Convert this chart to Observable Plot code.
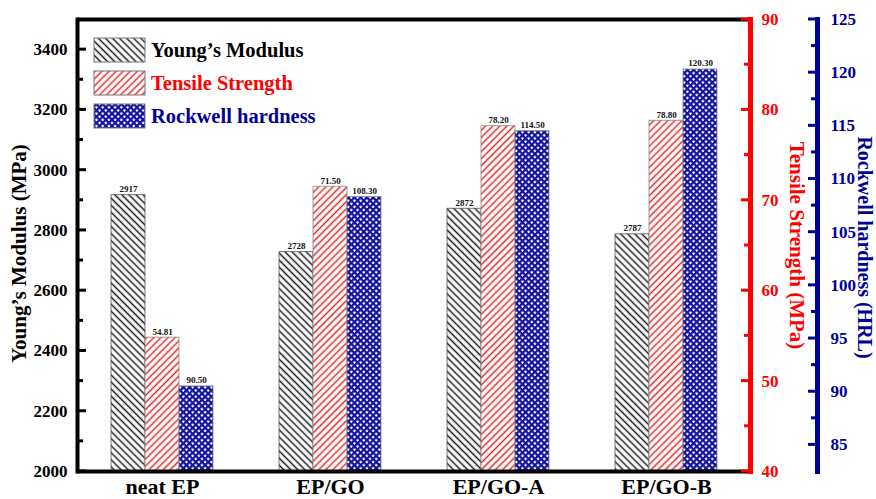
<!DOCTYPE html>
<html><head><meta charset="utf-8">
<script src="https://cdn.jsdelivr.net/npm/d3@7"></script>
<script src="https://cdn.jsdelivr.net/npm/@observablehq/plot@0.6"></script>
<style>body{margin:0;background:#fff}</style>
</head><body><div id="chart"></div>
<script>
const categories = ["neat EP", "EP/GO", "EP/GO-A", "EP/GO-B"];
const youngs = [2917, 2728, 2872, 2787];
const tensile = [54.81, 71.50, 78.20, 78.80];
const rockwell = [90.50, 108.30, 114.50, 120.30];
const seriesNames = ["Young\u2019s Modulus", "Tensile Strength", "Rockwell hardness"];
const youngTicks = [2000, 2200, 2400, 2600, 2800, 3000, 3200, 3400];
const youngMinor = [2100, 2300, 2500, 2700, 2900, 3100, 3300];
const tensileTicks = [40, 50, 60, 70, 80, 90];
const tensileMinor = [45, 55, 65, 75, 85];
const rockwellTicks = [85, 90, 95, 100, 105, 110, 115, 120, 125];
const rockwellMinor = [87.5, 92.5, 97.5, 102.5, 107.5, 112.5, 117.5, 122.5];

const Y0 = 2000, Y1 = 3500, T0 = 40, T1 = 90, R0 = 82.5, R1 = 125;
const fromT = v => Y0 + (v - T0) * (Y1 - Y0) / (T1 - T0);
const toT = y => T0 + (y - Y0) * (T1 - T0) / (Y1 - Y0);
const fromR = v => Y0 + (v - R0) * (Y1 - Y0) / (R1 - R0);
const toR = y => R0 + (y - Y0) * (R1 - R0) / (Y1 - Y0);

const rows = categories.map((c, i) => ({cat: c, young: youngs[i], tens: tensile[i], rock: rockwell[i]}));

const RED = "#ff0000", BLUE = "#000099";
const serif = "'Liberation Serif', 'Times New Roman', serif";
const W = 34;
const BX = 67; // offset of the blue axis from the red one
const ML = 77, MR = 126, WIDTH = 876;

const plot = Plot.plot({
  width: WIDTH, height: 499,
  marginTop: 19, marginBottom: 28, marginLeft: ML, marginRight: MR,
  style: {fontFamily: serif, background: "#fff"},
  x: {domain: categories, paddingInner: 0.8, paddingOuter: 0.4, label: null},
  y: {domain: [Y0, Y1], label: null},
  marks: [
    Plot.barY(rows, {x: "cat", y1: Y0, y2: "young", fill: "url(#hatchBlack)", stroke: "#555", strokeWidth: 0.8, dx: -W}),
    Plot.barY(rows, {x: "cat", y1: Y0, y2: d => fromT(d.tens), fill: "url(#hatchRed)", stroke: "#888", strokeWidth: 0.8}),
    Plot.barY(rows, {x: "cat", y1: Y0, y2: d => fromR(d.rock), fill: "url(#hatchBlue)", stroke: "#888", strokeWidth: 0.8, dx: W}),
    Plot.text(rows, {x: "cat", y: "young", text: d => String(d.young), dx: -W, dy: -6, fontSize: 9, fontWeight: "bold", fill: "#111"}),
    Plot.text(rows, {x: "cat", y: d => fromT(d.tens), text: d => d.tens.toFixed(2), dy: -6, fontSize: 9, fontWeight: "bold", fill: "#111"}),
    Plot.text(rows, {x: "cat", y: d => fromR(d.rock), text: d => d.rock.toFixed(2), dx: W, dy: -6, fontSize: 9, fontWeight: "bold", fill: "#111"}),
    // tick labels
    Plot.axisY({anchor: "left", ticks: youngTicks, tickSize: 0, tickPadding: 10, fontSize: 17, fontWeight: "bold", fill: "black", tickFormat: d => String(d), label: null}),
    Plot.axisY({anchor: "right", ticks: tensileTicks.map(fromT), tickSize: 0, tickPadding: 11, fontSize: 17, fontWeight: "bold", fill: RED, tickFormat: d => String(Math.round(toT(d))), label: null}),
    Plot.axisY({anchor: "right", ticks: rockwellTicks.map(fromR), tickSize: 0, tickPadding: 13, fontSize: 17, fontWeight: "bold", fill: BLUE, tickFormat: d => String(Math.round(toR(d))), label: null, dx: BX}),
    // x axis
    Plot.axisX({tickSize: 0, tickPadding: 7, fontSize: 22, fontWeight: "bold", fill: "black", label: null}),
    // frame lines
    Plot.ruleY([Y1], {stroke: "black", strokeWidth: 4}),
    Plot.ruleY([Y0], {stroke: "black", strokeWidth: 4}),
    Plot.frame({anchor: "left", stroke: "black", strokeWidth: 4}),
    Plot.frame({anchor: "right", stroke: RED, strokeWidth: 5}),
    Plot.frame({anchor: "right", stroke: BLUE, strokeWidth: 5, dx: BX}),
    // axis titles
    Plot.text(["Young\u2019s Modulus (MPa)"], {text: d => d, frameAnchor: "left", textAnchor: "middle", rotate: -90, dx: -58, dy: 8, fontSize: 21, fontWeight: "bold", fill: "black"}),
    Plot.text(["Tensile Strength (MPa)"], {text: d => d, frameAnchor: "right", textAnchor: "middle", rotate: 90, dx: 46, fontSize: 21, fontWeight: "bold", fill: RED}),
    Plot.text(["Rockwell hardness (HRL)"], {text: d => d, frameAnchor: "right", textAnchor: "middle", rotate: 90, dx: 114, dy: 2, fontSize: 20, fontWeight: "bold", fill: BLUE})
  ]
});

const svg = d3.select(plot);
const yScale = plot.scale("y");
const xRight = WIDTH - MR;

// inward-pointing tick stubs positioned with Plot's own y scale
const tickG = svg.append("g").attr("stroke-width", 3);
function stubs(values, x0, x1, color) {
  values.forEach(v => {
    const y = yScale.apply(v);
    tickG.append("line").attr("x1", x0).attr("x2", x1).attr("y1", y).attr("y2", y).attr("stroke", color);
  });
}
stubs(youngTicks, ML, ML + 9, "black");
stubs(youngMinor, ML, ML + 6, "black");
stubs(tensileTicks.map(fromT), xRight - 9, xRight, RED);
stubs(tensileMinor.map(fromT), xRight - 6, xRight, RED);
stubs(rockwellTicks.map(fromR), xRight + BX - 9, xRight + BX, BLUE);
stubs(rockwellMinor.map(fromR), xRight + BX - 6, xRight + BX, BLUE);

const defs = svg.insert("defs", ":first-child");
const pb = defs.append("pattern").attr("id", "hatchBlack").attr("patternUnits", "userSpaceOnUse")
  .attr("width", 5).attr("height", 5).attr("patternTransform", "rotate(45)");
pb.append("rect").attr("width", 5).attr("height", 5).attr("fill", "#fff");
pb.append("line").attr("x1", 0).attr("y1", 2.5).attr("x2", 5).attr("y2", 2.5).attr("stroke", "#1a1a1a").attr("stroke-width", 1.5);
const pr = defs.append("pattern").attr("id", "hatchRed").attr("patternUnits", "userSpaceOnUse")
  .attr("width", 5).attr("height", 5).attr("patternTransform", "rotate(-45)");
pr.append("rect").attr("width", 5).attr("height", 5).attr("fill", "#fff");
pr.append("line").attr("x1", 0).attr("y1", 2.5).attr("x2", 5).attr("y2", 2.5).attr("stroke", "#e02828").attr("stroke-width", 1.5);
const pbl = defs.append("pattern").attr("id", "hatchBlue").attr("patternUnits", "userSpaceOnUse")
  .attr("width", 4.4).attr("height", 4.4).attr("patternTransform", "rotate(45)");
pbl.append("rect").attr("width", 4.4).attr("height", 4.4).attr("fill", "#fff");
pbl.append("path").attr("d", "M0,1.1H4.4M1.1,0V4.4").attr("stroke", "#12129e").attr("stroke-width", 2.2);

// legend
const legendFills = ["url(#hatchBlack)", "url(#hatchRed)", "url(#hatchBlue)"];
const legendColors = ["black", RED, BLUE];
const lg = svg.append("g");
seriesNames.forEach((name, i) => {
  lg.append("rect").attr("x", 94).attr("y", 38 + i * 33).attr("width", 51).attr("height", 24)
    .attr("fill", legendFills[i]).attr("stroke", "#777").attr("stroke-width", 1);
  lg.append("text").attr("x", 151).attr("y", 57 + i * 33).text(name)
    .attr("text-anchor", "start")
    .attr("font-family", serif).attr("font-weight", "bold").attr("font-size", 20.5).attr("fill", legendColors[i]);
});

document.getElementById("chart").appendChild(plot);
</script>
</body></html>
